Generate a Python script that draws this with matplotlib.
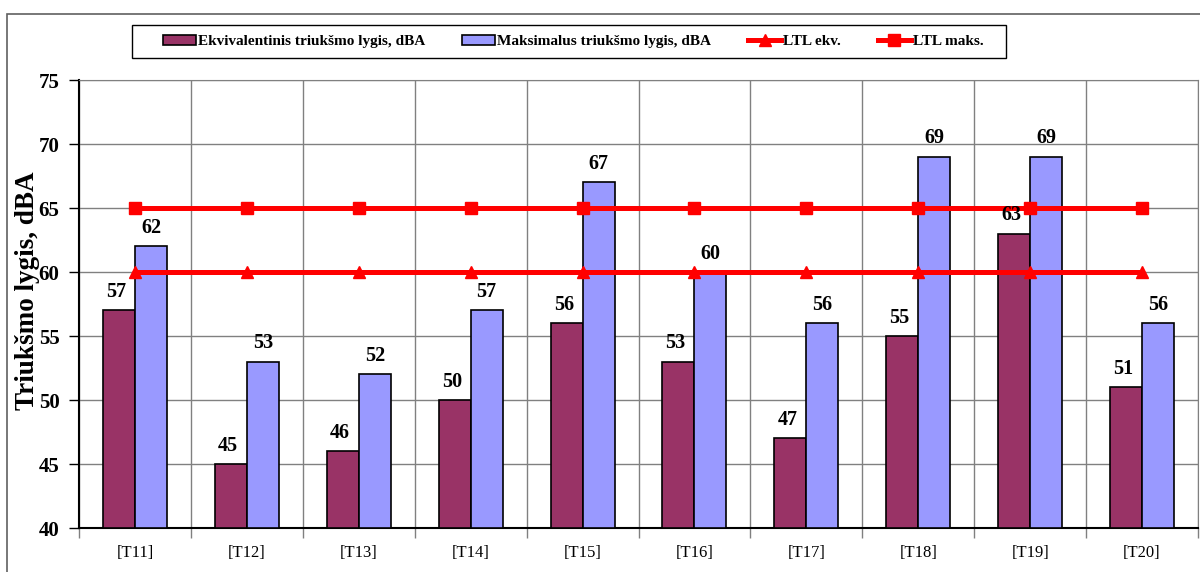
import matplotlib.pyplot as plt
import matplotlib.patches as mpatches
import numpy as np

categories = ['[T11]', '[T12]', '[T13]', '[T14]', '[T15]', '[T16]', '[T17]', '[T18]', '[T19]', '[T20]']
ekv_values = [57, 45, 46, 50, 56, 53, 47, 55, 63, 51]
maks_values = [62, 53, 52, 57, 67, 60, 56, 69, 69, 56]
ltl_ekv = [60] * 10
ltl_maks = [65] * 10

plt.rcParams['font.family'] = ['Liberation Serif', 'DejaVu Serif']

fig = plt.figure(figsize=(12, 5.72), dpi=100)
ax = fig.add_axes([79 / 1200, 44 / 572, 1119 / 1200, 448 / 572])

# outer chart frame
fig.patches.append(mpatches.Rectangle((7 / 1200, -0.1), 1.2, (558 / 572) + 0.1,
                                      transform=fig.transFigure, fill=False,
                                      edgecolor='#606060', linewidth=1.2))
# legend frame
fig.patches.append(mpatches.Rectangle((132 / 1200, 514 / 572), 874 / 1200, 33 / 572,
                                      transform=fig.transFigure, fill=False,
                                      edgecolor='black', linewidth=1))

x = np.arange(len(categories))
w = 0.286
b1 = ax.bar(x - w / 2, np.array(ekv_values) - 40, w, bottom=40, color='#993366',
            edgecolor='black', linewidth=1.2, label='Ekvivalentinis triukšmo lygis, dBA', zorder=3)
b2 = ax.bar(x + w / 2, np.array(maks_values) - 40, w, bottom=40, color='#9999FF',
            edgecolor='black', linewidth=1.2, label='Maksimalus triukšmo lygis, dBA', zorder=3)

l1, = ax.plot(x, ltl_ekv, color='#FF0000', linewidth=3.6, marker='^', markersize=9,
              label='LTL ekv.', zorder=4)
l2, = ax.plot(x, ltl_maks, color='#FF0000', linewidth=3.6, marker='s', markersize=9,
              label='LTL maks.', zorder=4)

for xi, v in zip(x, ekv_values):
    ax.annotate(str(v), (xi - w / 2, v), xytext=(-2, 6), textcoords='offset points',
                ha='center', va='bottom', fontsize=14.5, fontweight='bold', zorder=5)
for xi, v in zip(x, maks_values):
    ax.annotate(str(v), (xi + w / 2, v), xytext=(0, 6), textcoords='offset points',
                ha='center', va='bottom', fontsize=14.5, fontweight='bold', zorder=5)

ax.set_xlim(-0.5, len(categories) - 0.5)
ax.set_ylim(40, 75)
ax.set_yticks(np.arange(40, 76, 5))
ax.tick_params(axis='y', labelsize=15, length=7, width=1, direction='out', pad=7)
for t in ax.get_yticklabels():
    t.set_fontweight('bold')

ax.set_xticks(np.arange(-0.5, len(categories), 1))
ax.set_xticklabels([])
ax.set_xticks(x, minor=True)
ax.set_xticklabels(categories, minor=True, fontsize=12)
ax.tick_params(axis='x', which='major', length=7, width=1, color='#808080')
ax.tick_params(axis='x', which='minor', length=0, pad=12)

ax.grid(True, which='major', color='#808080', linewidth=1, zorder=0)
ax.set_axisbelow(True)
for s in ['top', 'right']:
    ax.spines[s].set_color('#808080')
for s in ['left', 'bottom']:
    ax.spines[s].set_linewidth(1.5)

fig.text(28 / 1200, 281 / 572, 'Triukšmo lygis, dBA', rotation=90, ha='center', va='center',
         fontsize=19.5, fontweight='bold')

leg = fig.legend([b1, b2, l1, l2], [b1.get_label(), b2.get_label(), 'LTL ekv.', 'LTL maks.'],
                 loc='center', bbox_to_anchor=(158 / 1200, 514 / 572, 830 / 1200, 33 / 572),
                 mode='expand', ncol=4, frameon=False,
                 prop={'weight': 'bold', 'size': 11}, handlelength=2.2, handletextpad=0.1,
                 borderaxespad=0, borderpad=0.3)

fig.savefig('out.png', dpi=100)
